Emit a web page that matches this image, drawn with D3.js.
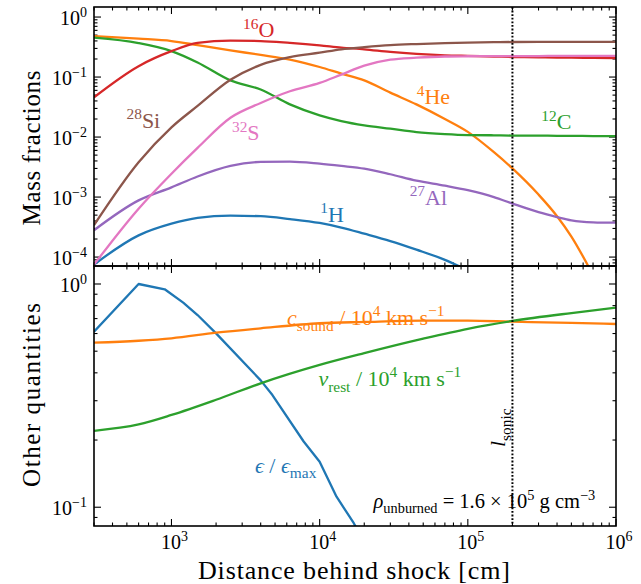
<!DOCTYPE html>
<html>
<head>
<meta charset="utf-8">
<style>
  body { margin: 0; background: #fff; }
  svg { display: block; font-family: "Liberation Serif", "DejaVu Serif", serif; }
  .series { fill: none; stroke-width: 2.3; stroke-linejoin: round; stroke-linecap: butt; }
  .frame { fill: none; stroke: #000; stroke-width: 1.6; }
  .tick { stroke: #000; stroke-width: 1.1; }
</style>
</head>
<body>
<svg width="641" height="584"></svg>
<script src="https://d3js.org/d3.v7.min.js"></script>
<script>
// --- top panel: mass fractions, all on one distance grid (cm)
var distance = [300, 600, 1000, 1500, 2500, 4000, 6300, 1e4, 1.4e4, 2e4, 3e4, 4.5e4, 7e4, 1e5, 1.5e5, 2e5, 3e5, 4e5, 5e5, 7e5, 1e6];

var h1   = [7.5e-5, 2.3e-4, 3.6e-4, 4.5e-4, 4.9e-4, 4.8e-4, 4.3e-4, 3.7e-4, 3.1e-4, 2.45e-4, 1.85e-4, 1.33e-4, 9e-5, 6e-5, null, null, null, null, null, null, null];
var he4  = [0.48, 0.436, 0.398, 0.34, 0.278, 0.234, 0.195, 0.147, 0.114, 0.088, 0.055, 0.035, 0.02, 0.0122, 0.0056, 0.003, 0.0011, 4.8e-4, 2.2e-4, 5e-5, null];
var c12  = [0.454, 0.369, 0.271, 0.175, 0.088, 0.062, 0.035, 0.023, 0.0185, 0.0157, 0.0138, 0.0121, 0.0112, 0.0108, 0.0107, 0.0106, 0.0106, 0.0105, 0.0105, 0.0104, 0.0104];
var o16  = [0.046, 0.152, 0.27, 0.37, 0.405, 0.398, 0.37, 0.337, 0.31, 0.29, 0.262, 0.243, 0.23, 0.225, 0.22, 0.216, 0.213, 0.211, 0.21, 0.208, 0.207];
var al27 = [2.8e-4, 8.8e-4, 1.45e-3, 2.2e-3, 3.3e-3, 3.85e-3, 3.9e-3, 3.6e-3, 3.3e-3, 2.97e-3, 2.4e-3, 1.88e-3, 1.55e-3, 1.3e-3, 1.0e-3, 7.8e-4, 5.6e-4, 4.65e-4, 4.1e-4, 3.8e-4, 3.74e-4];
var si28 = [3.4e-4, 3.8e-3, 0.0145, 0.033, 0.09, 0.16, 0.215, 0.255, 0.29, 0.315, 0.34, 0.355, 0.368, 0.376, 0.381, 0.384, 0.385, 0.385, 0.385, 0.385, 0.385];
var s32  = [7.5e-5, 6.4e-4, 2.45e-3, 6.6e-3, 0.021, 0.037, 0.058, 0.08, 0.11, 0.155, 0.195, 0.21, 0.22, 0.222, 0.223, 0.224, 0.224, 0.225, 0.225, 0.225, 0.225];

// --- bottom panel
var distEps  = [300, 600, 900, 1200, 1500, 2000, 4000, 4800, 7800, 1e4, 1.3e4, 1.7e4, 2e4];
var epsRatio = [0.611, 1.0, 0.947, 0.825, 0.726, 0.601, 0.37, 0.318, 0.197, 0.16, 0.1115, 0.0848, 0.07];
var distFlow = [300, 600, 1000, 2000, 4000, 1e4, 2e4, 5e4, 1e5, 2e5, 5e5, 1e6];
var cSound   = [0.546, 0.557, 0.571, 0.605, 0.633, 0.667, 0.676, 0.685, 0.685, 0.678, 0.67, 0.662];
var vRest    = [0.22, 0.235, 0.259, 0.303, 0.359, 0.434, 0.49, 0.569, 0.63, 0.683, 0.741, 0.783];

var lSonic = 2e5;
var xMajor = [1e3, 1e4, 1e5, 1e6];
var topMajor = [1, 1e-1, 1e-2, 1e-3, 1e-4];
var botMajor = [1, 1e-1];

var col = {blue: "#1f77b4", orange: "#ff7f0e", green: "#2ca02c", red: "#d62728",
           purple: "#9467bd", brown: "#8c564b", pink: "#e377c2"};

var left = 94, right = 616, top1 = 7, bot1 = 266, top2 = 266, bot2 = 526;

var svg = d3.select("svg");

var x = d3.scaleLog().domain([300, 1e6]).range([left, right]);
var yTop = d3.scaleLog().domain([7.1e-5, 1.47]).range([bot1, top1]);
var yBot = d3.scaleLog().domain([0.0824, 1.204]).range([bot2, top2]);

// text with sub/superscripts: parts = [text, "sup"|"sub"|null, italic]
function rich(g, px, py, parts, size, color, anchor) {
  var t = g.append("text").attr("x", px).attr("y", py)
    .attr("font-size", size).attr("fill", color || "#000");
  if (anchor) t.attr("text-anchor", anchor);
  var shift = 0;
  parts.forEach(function(p) {
    var s = p[1] === "sup" ? -0.4 * size : p[1] === "sub" ? 0.25 * size : 0;
    var ts = t.append("tspan").text(p[0]).attr("dy", s - shift);
    if (p[1]) ts.attr("font-size", size * 0.7);
    if (p[2]) ts.attr("font-style", "italic");
    shift = s;
  });
  return t;
}

function minors(lo, hi) {
  var out = [];
  for (var e = -6; e <= 6; e++) {
    for (var k = 1; k <= 9; k++) {
      var v = k * Math.pow(10, e);
      if (v >= lo && v <= hi) out.push(v);
    }
  }
  return out;
}

function panel(y, y0, y1, id) {
  svg.append("clipPath").attr("id", id).append("rect")
    .attr("x", left).attr("y", y1).attr("width", right - left).attr("height", y0 - y1);
  var g = svg.append("g");
  var xd = x.domain(), yd = y.domain();
  var xt = minors(xd[0], xd[1]), yt = minors(yd[0], yd[1]);
  xt.forEach(function(v) {
    var L = xMajor.indexOf(v) >= 0 ? 7 : 3.5;
    g.append("line").attr("class", "tick").attr("x1", x(v)).attr("x2", x(v)).attr("y1", y0).attr("y2", y0 - L);
    g.append("line").attr("class", "tick").attr("x1", x(v)).attr("x2", x(v)).attr("y1", y1).attr("y2", y1 + L);
  });
  yt.forEach(function(v) {
    var isMaj = Math.abs(Math.log10(v) - Math.round(Math.log10(v))) < 1e-9;
    var L = isMaj ? 7 : 3.5;
    g.append("line").attr("class", "tick").attr("x1", left).attr("x2", left + L).attr("y1", y(v)).attr("y2", y(v));
    g.append("line").attr("class", "tick").attr("x1", right).attr("x2", right - L).attr("y1", y(v)).attr("y2", y(v));
  });
  return g;
}

function drawLine(g, clip, xs, ys, y, color, smooth) {
  var pts = xs.map(function(d, i) { return [d, ys[i]]; });
  var line = d3.line()
    .defined(function(d) { return d[1] != null; })
    .x(function(d) { return x(d[0]); })
    .y(function(d) { return y(d[1]); })
    .curve(smooth ? d3.curveMonotoneX : d3.curveLinear);
  g.append("path").attr("class", "series").attr("clip-path", "url(#" + clip + ")")
    .attr("stroke", color).attr("d", line(pts));
}

// ---- top panel
var gTop = panel(yTop, bot1, top1, "clipTop");
drawLine(gTop, "clipTop", distance, h1, yTop, col.blue, true);
drawLine(gTop, "clipTop", distance, he4, yTop, col.orange, true);
drawLine(gTop, "clipTop", distance, c12, yTop, col.green, true);
drawLine(gTop, "clipTop", distance, o16, yTop, col.red, true);
drawLine(gTop, "clipTop", distance, al27, yTop, col.purple, true);
drawLine(gTop, "clipTop", distance, si28, yTop, col.brown, true);
drawLine(gTop, "clipTop", distance, s32, yTop, col.pink, true);

// ---- bottom panel
var gBot = panel(yBot, bot2, top2, "clipBot");
drawLine(gBot, "clipBot", distEps, epsRatio, yBot, col.blue, false);
drawLine(gBot, "clipBot", distFlow, cSound, yBot, col.orange, true);
drawLine(gBot, "clipBot", distFlow, vRest, yBot, col.green, true);

// sonic point
svg.append("line").attr("x1", x(lSonic)).attr("x2", x(lSonic)).attr("y1", top1).attr("y2", bot2)
  .attr("stroke", "#000").attr("stroke-width", 2).attr("stroke-dasharray", "1.8,1.8");

svg.append("rect").attr("class", "frame").attr("x", left).attr("y", top1).attr("width", right - left).attr("height", bot1 - top1);
svg.append("rect").attr("class", "frame").attr("x", left).attr("y", top2).attr("width", right - left).attr("height", bot2 - top2);

// tick labels
var lab = svg.append("g");
topMajor.forEach(function(v) {
  var e = Math.round(Math.log10(v));
  rich(lab, 87, yTop(v) + 8, [["10"], [String(e).replace("-", "\u2212"), "sup"]], 20, "#000", "end");
});
botMajor.forEach(function(v) {
  var e = Math.round(Math.log10(v));
  rich(lab, 87, yBot(v) + 8, [["10"], [String(e).replace("-", "\u2212"), "sup"]], 20, "#000", "end");
});
xMajor.forEach(function(v) {
  var e = Math.round(Math.log10(v));
  rich(lab, x(v) + 3, 549, [["10"], [String(e), "sup"]], 20, "#000", "middle");
});

// axis titles
lab.append("text").attr("transform", "translate(40,148) rotate(-90)").attr("text-anchor", "middle")
  .attr("font-size", 25).attr("textLength", 155).attr("lengthAdjust", "spacing").text("Mass fractions");
lab.append("text").attr("transform", "translate(40,395) rotate(-90)").attr("text-anchor", "middle")
  .attr("font-size", 25).attr("textLength", 184).attr("lengthAdjust", "spacing").text("Other quantities");
lab.append("text").attr("x", 354).attr("y", 579).attr("text-anchor", "middle")
  .attr("font-size", 26).attr("textLength", 312).attr("lengthAdjust", "spacing").text("Distance behind shock [cm]");

// series annotations
var ann = svg.append("g");
rich(ann, x(3040), yTop(0.459), [["16", "sup"], ["O"]], 22, col.red);
rich(ann, x(497), yTop(0.014), [["28", "sup"], ["Si"]], 22, col.brown);
rich(ann, x(2560), yTop(0.0088), [["32", "sup"], ["S"]], 22, col.pink);
rich(ann, x(45200), yTop(0.035), [["4", "sup"], ["He"]], 22, col.orange);
rich(ann, x(3.13e5), yTop(0.0134), [["12", "sup"], ["C"]], 22, col.green);
rich(ann, x(40500), yTop(7.3e-4), [["27", "sup"], ["Al"]], 22, col.purple);
rich(ann, x(10100), yTop(3.9e-4), [["1", "sup"], ["H"]], 22, col.blue);

rich(ann, x(6030), yBot(0.655), [["c", null, true], ["sound", "sub"], [" / 10"], ["4", "sup"], [" km s"], ["\u22121", "sup"]], 22, col.orange);
rich(ann, x(9810), yBot(0.349), [["v", null, true], ["rest", "sub"], [" / 10"], ["4", "sup"], [" km s"], ["\u22121", "sup"]], 22, col.green);
rich(ann, x(3660), yBot(0.1425), [["\u03f5", null, true], [" / "], ["\u03f5", null, true], ["max", "sub"]], 22, col.blue);
rich(ann, x(23100), yBot(0.0993), [["\u03c1", null, true], ["unburned", "sub"], [" = 1.6 \u00d7 10"], ["5", "sup"], [" g cm"], ["\u22123", "sup"]], 20.5, "#000");

var ls = ann.append("g").attr("transform", "translate(" + (x(lSonic) - 7) + ",447) rotate(-90)");
rich(ls, 0, 0, [["l", null, true], ["sonic", "sub"]], 22, "#000");
</script>
</body>
</html>
